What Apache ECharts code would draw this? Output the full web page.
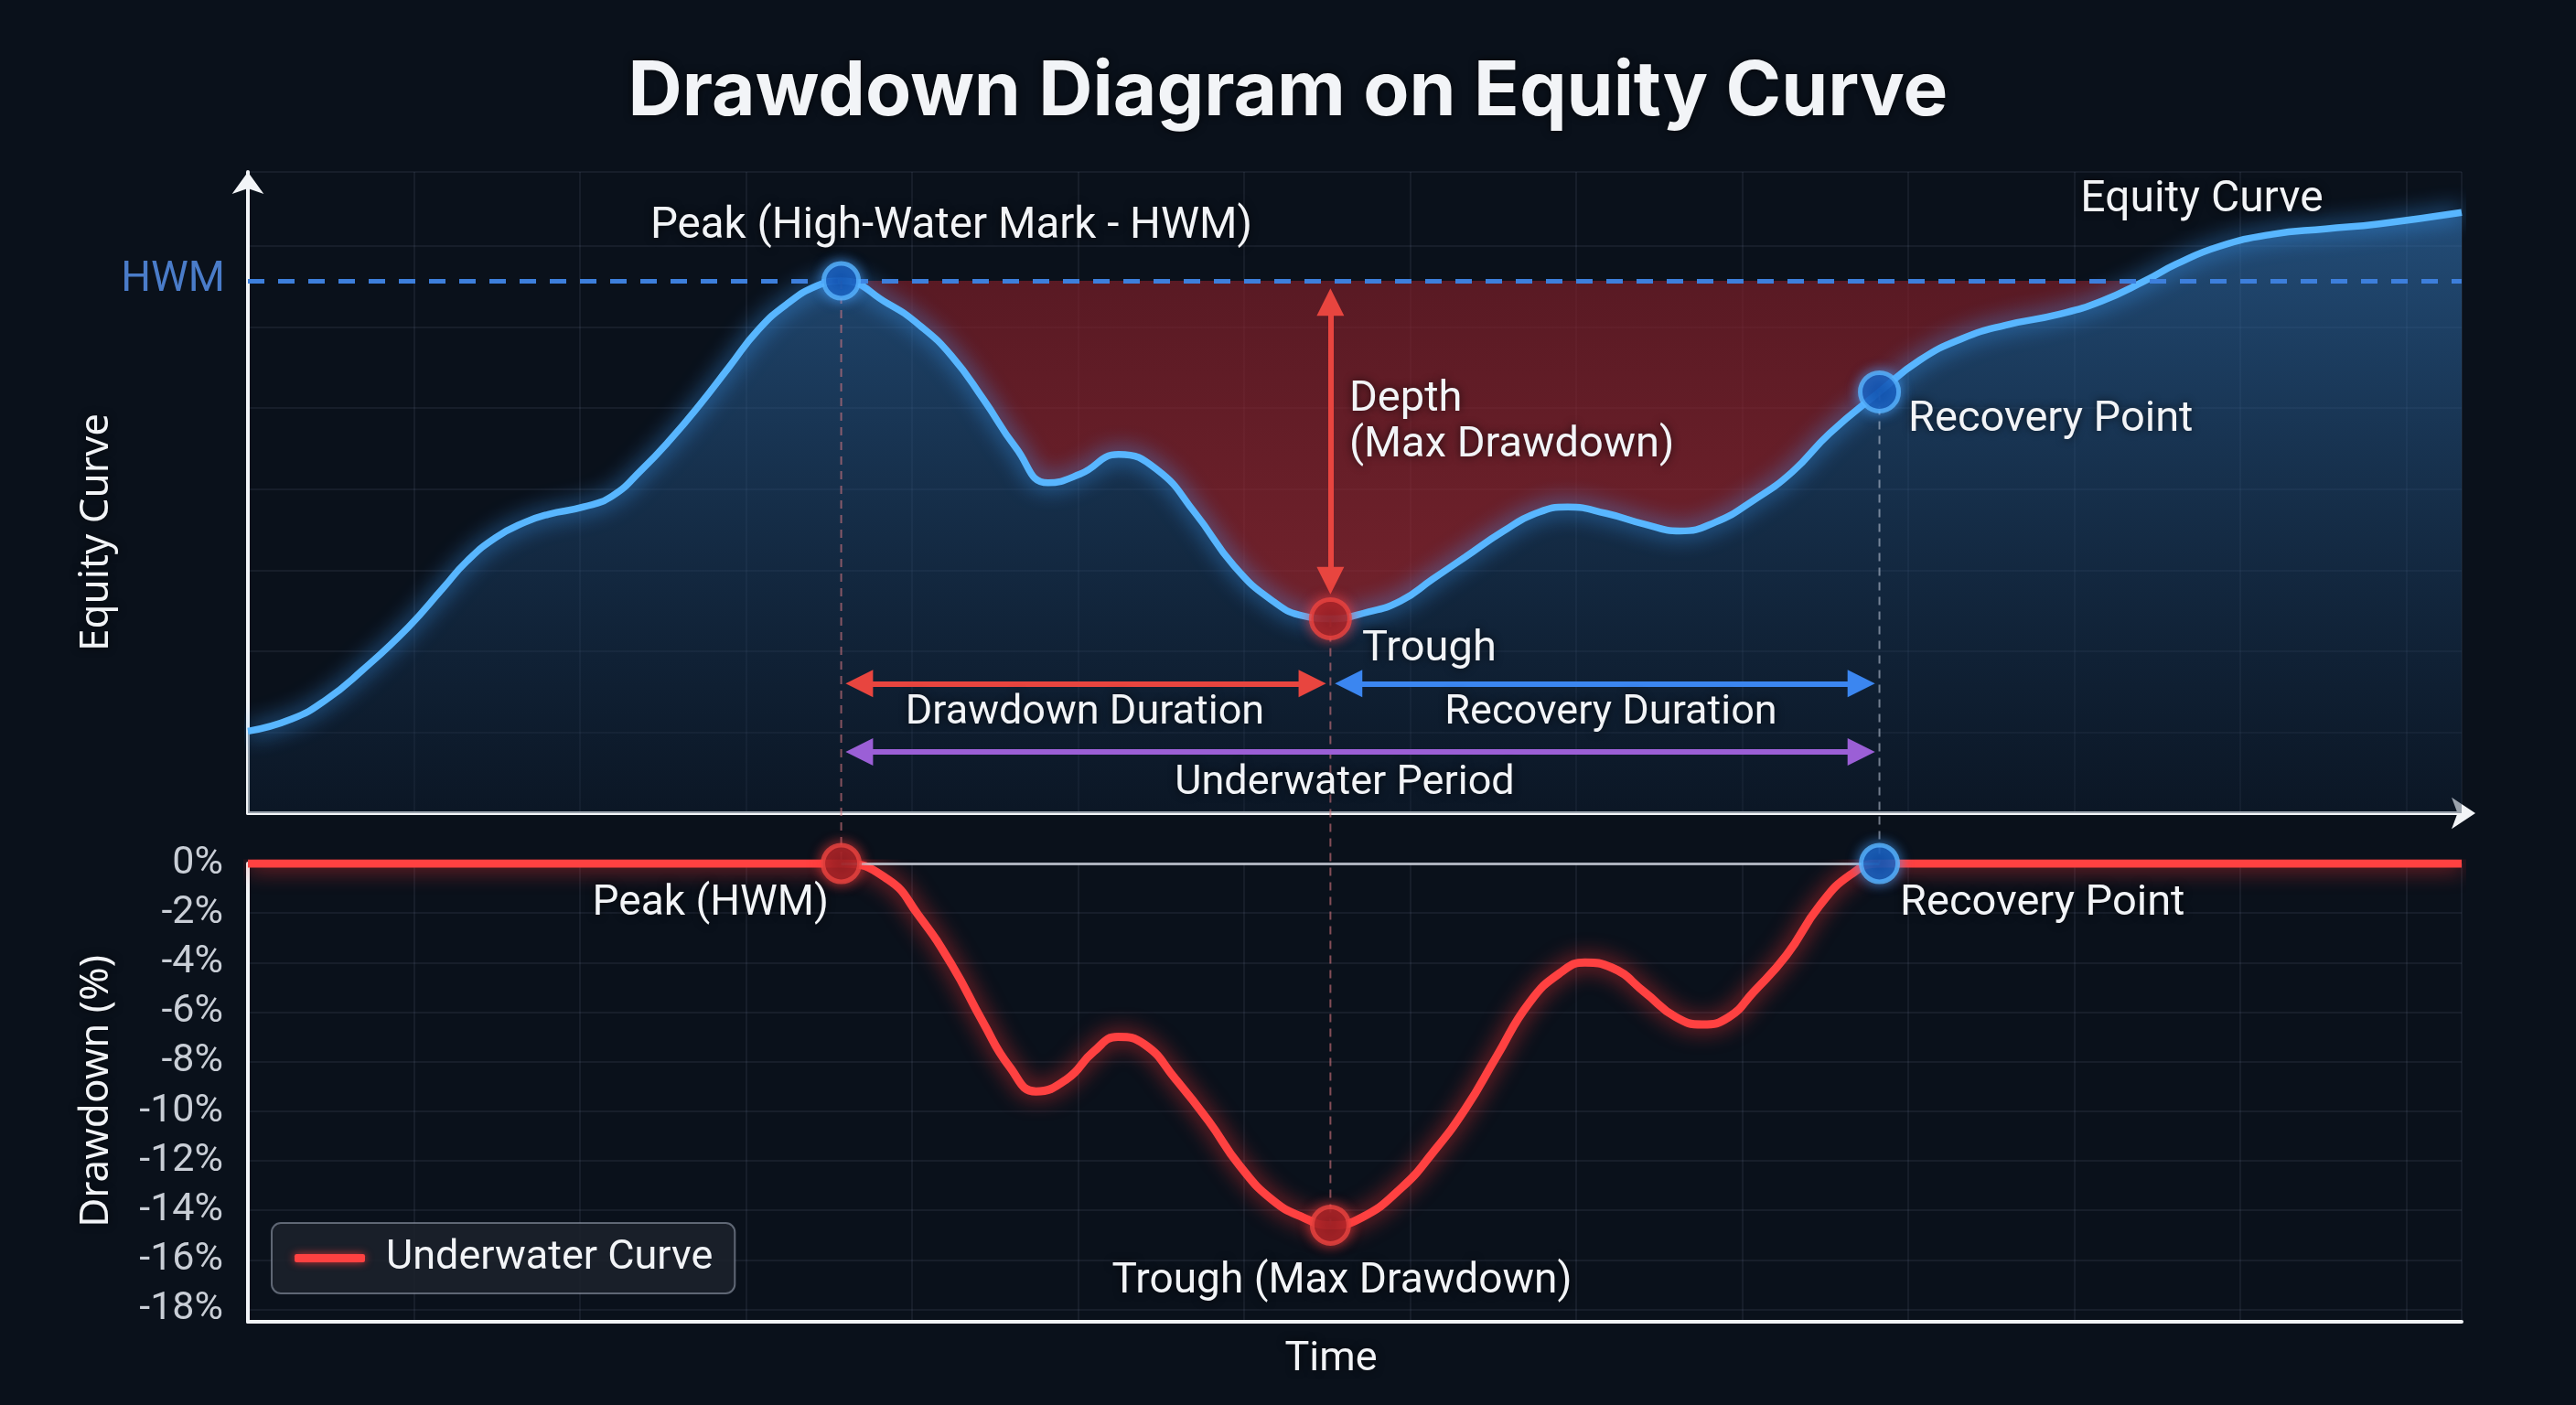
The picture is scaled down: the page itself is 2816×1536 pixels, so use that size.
<!DOCTYPE html>
<html>
<head>
<meta charset="utf-8">
<title>Drawdown Diagram on Equity Curve</title>
<script src="https://cdn.jsdelivr.net/npm/echarts@6.0.0/dist/echarts.min.js"></script>
<style>
html,body{margin:0;padding:0;background:#0a111b;}
#chartmain{width:2816px;height:1536px;}
</style>
</head>
<body>
<div id="chartmain"></div>
<script>
// equity curve (HWM = 100), time runs 0..100
var equityTime = [
	0, 1.98, 3.56, 5.14, 7.25, 8.83, 9.88, 11.2, 12.52, 13.57,
	15.16, 16.47, 17.79, 19.1, 20.43, 21.74, 23.06, 24.38, 25.7, 26.8,
	28.9, 30.34, 31.79, 33.24, 34.69, 36.14, 37.59, 39.33, 41.07, 42.8,
	44.55, 46.29, 47.73, 48.9, 50.63, 52.08, 53.53, 54.98, 56.72, 58.17,
	59.62, 61.36, 63.1, 64.69, 66.29, 68.02, 69.76, 71.44, 73.7, 75.52,
	77.45, 79.38, 81.8, 83.73, 85.7, 87.11, 89.04, 91.45, 93.86, 96.28, 100];
var equityValue = [
	80.54, 81.07, 81.92, 83.15, 85.04, 86.74, 87.87, 88.91, 89.57, 89.91,
	90.23, 90.71, 91.84, 93.16, 94.67, 96.28, 97.89, 99.02, 99.78, 100,
	99.02, 98.08, 96.75, 94.86, 92.79, 91.27, 91.65, 92.5, 91.84, 89.95,
	87.68, 86.17, 85.51, 85.4, 85.7, 86.17, 87.12, 88.06, 89.19, 89.95,
	90.23, 89.95, 89.48, 89.19, 89.57, 90.52, 91.74, 93.4, 95.2, 96.57,
	97.51, 98.08, 98.55, 99.12, 100, 100.72, 101.48, 102.01, 102.24, 102.46, 102.95];

// underwater curve (%)
var ddTime = [
	0, 26.8, 28.9, 30.3, 31.8, 33.2, 34.4, 35.6, 37.0, 38.2,
	39.3, 40.5, 41.9, 43.4, 44.8, 46.3, 47.7, 48.9, 50.3, 52.1,
	53.5, 55.0, 56.4, 57.9, 59.3, 60.4, 61.6, 63.1, 64.5, 65.7,
	66.9, 68.0, 69.5, 71.0, 72.4, 73.7, 100];
var ddValue = [
	0, 0, -0.64, -2.1, -4.1, -6.4, -8.2, -9.2, -8.7, -7.6,
	-7.0, -7.3, -8.7, -10.4, -12.2, -13.6, -14.3, -14.6, -14.3, -13.1,
	-11.7, -9.9, -7.8, -5.6, -4.4, -4.0, -4.2, -5.2, -6.2, -6.5,
	-6.2, -5.2, -3.7, -1.7, -0.45, 0, 0];

// key events: peak, trough, recovery
var keyNames = ['Peak', 'Trough', 'Recovery'];
var keyTime = [26.8, 48.9, 73.7];
var keyEquity = [100, 85.4, 95.2];
var keyDrawdown = [0, -14.6, 0];
var hwmValue = 100;
var crossTime = 85.7;   // equity back above the HWM line

var ddTicks = [0, -2, -4, -6, -8, -10, -12, -14, -16, -18];

var FONT = 'Roboto';
var WHITE = '#f2f4f7';

function pair(ts, vs) {
	return ts.map(function (t, i) { return [t, vs[i]]; });
}
var equityData = pair(equityTime, equityValue);
var underwaterFill = equityData.filter(function (d) {
	return d[0] >= keyTime[0] && d[0] <= crossTime;
});
var ddData = pair(ddTime, ddValue);

var blueDot = {color: '#0b4aa6', borderColor: '#58b4ff', borderWidth: 5, shadowBlur: 14, shadowColor: 'rgba(70,160,255,0.8)'};
var redDot = {color: '#8c1b20', borderColor: '#ea4440', borderWidth: 5, shadowBlur: 14, shadowColor: 'rgba(255,60,60,0.8)'};
var topDotStyle = [blueDot, redDot, blueDot];
var bottomDotStyle = [redDot, redDot, blueDot];

function arrow(p1, p2, color) {
	return [
		{coord: p1, symbol: 'triangle', symbolSize: [30, 30], lineStyle: {color: color, width: 6, type: 'solid'}},
		{coord: p2, symbol: 'triangle', symbolSize: [30, 30]}
	];
}

var inset = 0.82;   // arrow heads stop just short of the guides
var durLevel = 82.6, periodLevel = 79.65;

var faint = {color: 'rgba(150,170,200,0.09)', width: 2};

var myChart = echarts.init(document.getElementById('chartmain'));
var option = {
	backgroundColor: '#0a111b',
	animation: false,
	legend: {
		data: ['Underwater Curve'],
		left: 297, top: 1337,
		icon: 'roundRect',
		itemWidth: 77, itemHeight: 9,
		padding: [16, 24, 16, 25],
		backgroundColor: 'rgba(28,34,44,0.85)',
		borderColor: 'rgba(160,170,185,0.55)',
		borderWidth: 2,
		borderRadius: 10,
		itemStyle: {shadowBlur: 10, shadowColor: 'rgba(255,60,60,0.8)'},
		textStyle: {color: WHITE, fontSize: 45, fontFamily: FONT, padding: [0, 0, 0, 18]}
	},
	grid: [
		{left: 271, top: 188, width: 2420, height: 701},
		{left: 271, top: 944, width: 2420, height: 501}
	],
	xAxis: [
		{gridIndex: 0, type: 'value', min: 0, max: 100, interval: 7.5,
			axisLine: {show: true, onZero: false, symbol: ['none', 'arrow'], symbolSize: [26, 26], symbolOffset: [0, 15],
				lineStyle: {color: WHITE, width: 4}},
			axisTick: {show: false}, axisLabel: {show: false},
			splitLine: {show: true, lineStyle: faint}},
		{gridIndex: 1, type: 'value', min: 0, max: 100, interval: 7.5,
			axisLine: {show: true, onZero: false, lineStyle: {color: WHITE, width: 4}},
			axisTick: {show: false}, axisLabel: {show: false},
			splitLine: {show: true, lineStyle: faint}}
	],
	yAxis: [
		{gridIndex: 0, type: 'value', min: 77, max: 104.7, interval: 3.5,
			axisLine: {show: true, onZero: false, symbol: ['none', 'arrow'], symbolSize: [26, 24],
				lineStyle: {color: WHITE, width: 4}},
			axisTick: {show: false}, axisLabel: {show: false},
			splitLine: {show: true, lineStyle: faint}},
		{gridIndex: 1, type: 'value', min: -18.5, max: 0,
			axisLine: {show: true, onZero: false, lineStyle: {color: WHITE, width: 4}},
			axisTick: {show: false, customValues: ddTicks},
			axisLabel: {customValues: ddTicks, formatter: '{value}%', color: '#c9ced6', fontSize: 43, fontFamily: FONT, margin: 27},
			splitLine: {show: true, lineStyle: faint}}
	],
	series: [
		{
			name: 'Equity Curve', type: 'line', xAxisIndex: 0, yAxisIndex: 0,
			data: equityData, smooth: 0.5, symbol: 'none', z: 3, silent: true,
			lineStyle: {color: '#58b6ff', width: 7.5, shadowBlur: 24, shadowColor: 'rgba(60,160,255,0.95)'},
			areaStyle: {origin: 'start', color: new echarts.graphic.LinearGradient(0, 0, 0, 1, [
				{offset: 0, color: 'rgba(50,114,178,0.88)'},
				{offset: 1, color: 'rgba(14,32,54,0.55)'}
			])},
			markLine: {
				silent: true, symbol: 'none', label: {show: false},
				data: [
					{yAxis: hwmValue, lineStyle: {color: '#3d7fdc', width: 5, type: [18, 15]},
						label: {show: true, position: 'start', formatter: 'HWM', distance: 25,
							color: '#4a7cc9', fontSize: 46, fontFamily: FONT}},
					arrow([keyTime[1], hwmValue - 0.92], [keyTime[1], keyEquity[1] + 1.65], '#e8453f'),
					arrow([keyTime[0] + inset, durLevel], [keyTime[1] - inset, durLevel], '#e8453f'),
					arrow([keyTime[1] + inset, durLevel], [keyTime[2] - inset, durLevel], '#3b86f0'),
					arrow([keyTime[0] + inset, periodLevel], [keyTime[2] - inset, periodLevel], '#9b5fd6')
				]
			}
		},
		{
			name: 'Underwater Area', type: 'line', xAxisIndex: 0, yAxisIndex: 0,
			data: underwaterFill, smooth: 0.5, symbol: 'none', z: 2, silent: true,
			lineStyle: {width: 0},
			areaStyle: {origin: hwmValue, color: new echarts.graphic.LinearGradient(0, 0, 0, 1, [
				{offset: 0, color: 'rgba(128,30,40,0.96)'},
				{offset: 1, color: 'rgba(165,42,52,0.96)'}
			])}
		},
		{
			name: 'Key Points', type: 'scatter', xAxisIndex: 0, yAxisIndex: 0, z: 6, silent: true,
			data: keyTime.map(function (t, i) {
				return {name: keyNames[i], value: [t, keyEquity[i]], symbolSize: i == 0 ? 38 : 42, itemStyle: topDotStyle[i]};
			})
		},
		{
			name: 'Underwater Curve', type: 'line', xAxisIndex: 1, yAxisIndex: 1,
			data: ddData, smooth: 0.5, symbol: 'none', z: 3, silent: true,
			itemStyle: {color: '#ff4141'},
			lineStyle: {color: '#ff4141', width: 9, shadowBlur: 24, shadowColor: 'rgba(255,50,50,0.85)'},
			markLine: {
				silent: true, symbol: 'none', label: {show: false},
				data: [[
					{coord: [keyTime[0], 0], lineStyle: {color: 'rgba(200,205,215,0.85)', width: 3, type: 'solid'}},
					{coord: [keyTime[2], 0]}
				]]
			}
		},
		{
			name: 'Key Points DD', type: 'scatter', xAxisIndex: 1, yAxisIndex: 1, z: 6, silent: true,
			data: keyTime.map(function (t, i) {
				return {name: keyNames[i], value: [t, keyDrawdown[i]], symbolSize: 40, itemStyle: bottomDotStyle[i]};
			})
		}
	]
};
myChart.setOption(option);

// dashed guides from each top marker down to its bottom marker
var guideColor = ['rgba(215,120,130,0.6)', 'rgba(215,120,130,0.6)', 'rgba(200,210,225,0.55)'];
var graphics = [];
keyTime.forEach(function (t, i) {
	var x = myChart.convertToPixel({xAxisIndex: 0}, t);
	graphics.push({
		type: 'line', z: 4, silent: true,
		shape: {x1: x, y1: myChart.convertToPixel({yAxisIndex: 0}, keyEquity[i]),
			x2: x, y2: myChart.convertToPixel({yAxisIndex: 1}, keyDrawdown[i])},
		style: {stroke: guideColor[i], lineWidth: 2, lineDash: [9, 7]}
	});
});

function txt(s, x, y, size, align, font, rot) {
	return {
		type: 'text', x: x, y: y, z: 10, silent: true, rotation: rot || 0,
		style: {text: s, fill: WHITE, font: font || (size + 'px ' + FONT), align: align || 'center', verticalAlign: 'middle',
			textShadowBlur: 10, textShadowColor: 'rgba(0,0,0,0.7)'}
	};
}
graphics.push(
	txt('Drawdown Diagram on Equity Curve', 1408, 101, 0, 'center', 'bold 82px Inter'),
	txt('Peak (High-Water Mark - HWM)', 1040, 248, 47.5),
	txt('Equity Curve', 2407, 219, 48),
	txt('Depth', 1475, 437, 47, 'left'),
	txt('(Max Drawdown)', 1475, 487, 47, 'left'),
	txt('Trough', 1489, 710, 47, 'left'),
	txt('Drawdown Duration', 1186, 780, 45),
	txt('Recovery Duration', 1761, 780, 45),
	txt('Underwater Period', 1470, 857, 45),
	txt('Recovery Point', 2086, 459, 47, 'left'),
	txt('Peak (HWM)', 906, 988, 46, 'right'),
	txt('Recovery Point', 2077, 988, 47, 'left'),
	txt('Trough (Max Drawdown)', 1467, 1401, 46),
	txt('Time', 1455, 1487, 45),
	txt('Equity Curve', 105, 582, 0, 'center', '44px "Noto Sans"', Math.PI / 2),
	txt('Drawdown (%)', 105, 1193, 0, 'center', '44px "Noto Sans"', Math.PI / 2)
);
myChart.setOption({graphic: graphics});
</script>
</body>
</html>
